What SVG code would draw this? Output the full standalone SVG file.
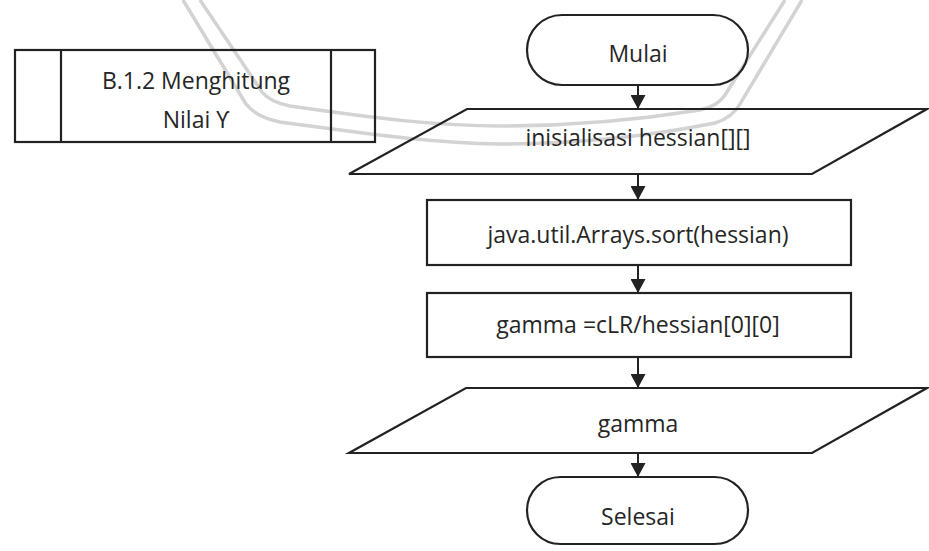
<svg xmlns="http://www.w3.org/2000/svg" width="929" height="551" viewBox="0 0 929 551">
  <style>
    .shape { fill: none; stroke: #222; stroke-width: 2.2; }
    .edge { fill: none; stroke: #222; stroke-width: 2; }
    .label { font-family: "Open Sans", "Noto Sans", "DejaVu Sans", sans-serif; font-size: 23px; fill: #262626; text-anchor: middle; }
    .mark { fill: none; stroke: #d3d3d3; stroke-width: 3.5; stroke-linejoin: round; }
  </style>
  <defs>
    <marker id="arrow" viewBox="0 0 14 15" refX="14" refY="7.5" markerWidth="14" markerHeight="15" orient="auto" markerUnits="userSpaceOnUse">
      <path d="M0,0 L14,7.5 L0,15 z" fill="#222"/>
    </marker>
  </defs>
  <rect width="929" height="551" fill="#ffffff"/>

  <!-- faint background emblem outline -->
  <g id="emblem">
    <path class="mark" d="M 200 0 L 262 92 Q 270 102 290 106 C 380 119 440 126 500 126 C 580 126 650 118 700 110 Q 718 106 725 95 L 785 0"/>
    <path class="mark" d="M 183 0 L 246 104 Q 256 117 280 122 C 370 134 430 143 500 144 C 590 144 660 134 715 123 Q 732 118 740 104 L 802 0"/>
  </g>

  <!-- predefined process -->
  <g id="subprocess">
    <rect class="shape" x="15" y="50" width="360" height="92"/>
    <line class="shape" x1="61" y1="50" x2="61" y2="142"/>
    <line class="shape" x1="331" y1="50" x2="331" y2="142"/>
    <text class="label" x="196" y="88.5">B.1.2 Menghitung</text>
    <text class="label" x="196" y="128">Nilai ϒ</text>
  </g>

  <g id="start">
    <rect class="shape" x="527" y="15" width="221" height="70" rx="35" ry="35"/>
    <text class="label" x="638" y="62">Mulai</text>
  </g>

  <g id="input">
    <polygon class="shape" points="467,109 927,109 812,174 349,174"/>
    <text class="label" x="638" y="146">inisialisasi hessian[][]</text>
  </g>

  <g id="sort">
    <rect class="shape" x="427" y="200" width="424" height="65"/>
    <text class="label" x="638" y="243">java.util.Arrays.sort(hessian)</text>
  </g>

  <g id="compute">
    <rect class="shape" x="427" y="293" width="424" height="64"/>
    <text class="label" x="638" y="332.5">gamma =cLR/hessian[0][0]</text>
  </g>

  <g id="output">
    <polygon class="shape" points="466,388 927,388 812,453 349,453"/>
    <text class="label" x="638" y="432">gamma</text>
  </g>

  <g id="end">
    <rect class="shape" x="527" y="477" width="221" height="67" rx="33.5" ry="33.5"/>
    <text class="label" x="638" y="525">Selesai</text>
  </g>

  <g id="connectors">
    <line class="edge" x1="638" y1="85" x2="638" y2="109" marker-end="url(#arrow)"/>
    <line class="edge" x1="638" y1="174" x2="638" y2="200" marker-end="url(#arrow)"/>
    <line class="edge" x1="638" y1="265" x2="638" y2="293" marker-end="url(#arrow)"/>
    <line class="edge" x1="638" y1="357" x2="638" y2="388" marker-end="url(#arrow)"/>
    <line class="edge" x1="638" y1="453" x2="638" y2="477" marker-end="url(#arrow)"/>
  </g>
</svg>
